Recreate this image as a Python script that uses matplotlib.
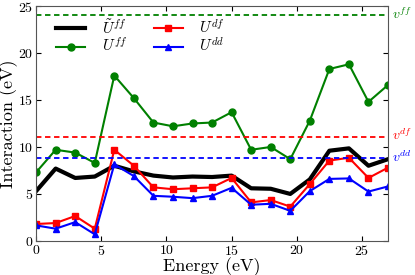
import matplotlib
matplotlib.use("Agg")
from matplotlib import pyplot as plt

plt.rcParams["font.family"] = "serif"
plt.rcParams["font.serif"] = ["cmr10"]
plt.rcParams["mathtext.fontset"] = "cm"
plt.rcParams["axes.formatter.use_mathtext"] = True

energy = [0, 1.5, 3, 4.5, 6, 7.5, 9, 10.5, 12, 13.5, 15, 16.5, 18, 19.5, 21, 22.5, 24, 25.5, 27]
u_ff_tilde = [5.3, 7.7, 6.7, 6.85, 8.0, 7.4, 6.95, 6.75, 6.85, 6.8, 6.95, 5.6, 5.55, 5.0, 6.55, 9.6, 9.85, 8.0, 8.7]
u_ff = [7.3, 9.7, 9.4, 8.3, 17.6, 15.2, 12.6, 12.2, 12.5, 12.6, 13.7, 9.7, 10.0, 8.7, 12.8, 18.3, 18.8, 14.8, 16.6]
u_df = [1.8, 1.9, 2.65, 1.3, 9.7, 8.0, 5.7, 5.5, 5.6, 5.7, 6.7, 4.1, 4.35, 3.65, 6.05, 8.55, 8.85, 6.7, 7.8]
u_dd = [1.65, 1.3, 2.0, 0.7, 8.15, 6.9, 4.8, 4.7, 4.55, 4.8, 5.65, 3.85, 3.95, 3.2, 5.3, 6.6, 6.65, 5.25, 5.8]
v_ff = 24.0
v_df = 11.1
v_dd = 8.8

fig = plt.figure(figsize=(4.15, 2.75), dpi=100)
ax = fig.add_axes([0.087, 0.124, 0.848, 0.854])

ax.plot(energy, u_ff_tilde, color="black", linewidth=3, label=r"$\tilde{U}^{ff}$")
ax.plot(energy, u_ff, color="green", linewidth=1.5, marker="o", markersize=5, label=r"$U^{ff}$")
ax.plot(energy, u_df, color="red", linewidth=1.5, marker="s", markersize=5, label=r"$U^{df}$")
ax.plot(energy, u_dd, color="blue", linewidth=1.5, marker="^", markersize=5, label=r"$U^{dd}$")

# bare interaction levels
for val, col, name in [(v_ff, "green", "ff"), (v_df, "red", "df"), (v_dd, "blue", "dd")]:
    ax.axhline(val, color=col, linestyle=(0, (3, 2)), linewidth=1.3)
    ax.annotate(r"$v^{%s}$" % name, xy=(1.0, val), xycoords=("axes fraction", "data"),
                xytext=(3, 1), textcoords="offset points", color=col,
                fontsize=10, va="center", ha="left")

ax.set_xlim(0, 27)
ax.set_ylim(0, 25)
ax.set_xticks([0, 5, 10, 15, 20, 25])
ax.set_yticks([0, 5, 10, 15, 20, 25])
ax.tick_params(direction="in", labelsize=10, top=True, right=True, pad=2)
for s in ax.spines.values():
    s.set_color("#555555")
ax.set_xlabel("Energy (eV)", fontsize=13, labelpad=0)
ax.set_ylabel("Interaction (eV)", fontsize=13, labelpad=0)

ax.legend(loc="upper left", ncol=2, frameon=False, fontsize=11, handlelength=1.9,
          labelspacing=0.0, columnspacing=1.7, handletextpad=1.1,
          bbox_to_anchor=(0.04, 0.975), borderaxespad=0)

fig.savefig("out.png", dpi=100)
